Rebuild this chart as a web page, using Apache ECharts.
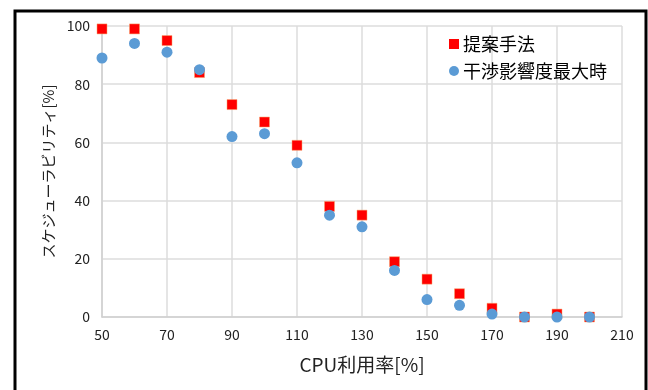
<!DOCTYPE html>
<html>
<head>
<meta charset="utf-8">
<script src="https://cdn.jsdelivr.net/npm/echarts@6/dist/echarts.min.js"></script>
<style>
  html, body { margin: 0; padding: 0; background: #fff; }
  #chart { width: 648px; height: 390px; }
</style>
</head>
<body>
<div id="chart"></div>
<script>
// CPU利用率 [%]
var cpuRates = [50, 60, 70, 80, 90, 100, 110, 120, 130, 140, 150, 160, 170, 180, 190, 200];
// 提案手法
var proposed = [99, 99, 95, 84, 73, 67, 59, 38, 35, 19, 13, 8, 3, 0, 1, 0];
// 干渉影響度最大時
var worstCase = [89, 94, 91, 85, 62, 63, 53, 35, 31, 16, 6, 4, 1, 0, 0, 0];

function pairs(ys) {
  return cpuRates.map(function (x, i) { return [x, ys[i]]; });
}

var fontJP = '"Noto Sans CJK JP", "Noto Sans", sans-serif';

var myChart = echarts.init(document.getElementById('chart'));
var option = {
  animation: false,
  textStyle: { fontFamily: fontJP },
  graphic: [{
    type: 'rect',
    shape: { x: 15, y: 11, width: 631, height: 400 },
    style: { fill: 'none', stroke: '#000', lineWidth: 3 },
    silent: true
  }],
  grid: { left: 102, right: 26, top: 26, bottom: 73 },
  legend: {
    orient: 'vertical',
    left: 444,
    top: 30,
    itemWidth: 10,
    itemHeight: 10,
    itemGap: 9,
    itemStyle: { borderWidth: 0 },
    textStyle: { fontSize: 18, color: '#000', fontFamily: fontJP, padding: [0, 0, 0, -1] },
    data: [
      { name: '提案手法', icon: 'rect' },
      { name: '干渉影響度最大時', icon: 'circle' }
    ]
  },
  xAxis: {
    type: 'value',
    min: 50,
    max: 210,
    interval: 20,
    name: 'CPU利用率[%]',
    nameLocation: 'middle',
    nameGap: 38,
    nameTextStyle: { fontSize: 19, color: '#222' },
    axisLine: { show: true, lineStyle: { color: '#d0d0d0', width: 1.5 } },
    axisTick: { show: false },
    axisLabel: { fontSize: 14, color: '#222', margin: 11 },
    splitLine: { show: true, lineStyle: { color: '#dcdcdc', width: 1.5 } }
  },
  yAxis: {
    type: 'value',
    min: 0,
    max: 100,
    interval: 20,
    name: 'スケジューラビリティ[%]',
    nameLocation: 'middle',
    nameGap: 45,
    nameTextStyle: { fontSize: 15, color: '#222' },
    axisLine: { show: true, lineStyle: { color: '#d0d0d0', width: 1.5 } },
    axisTick: { show: false },
    axisLabel: { fontSize: 14, color: '#222', margin: 12 },
    splitLine: { show: true, lineStyle: { color: '#dcdcdc', width: 1.5 } }
  },
  series: [
    {
      name: '提案手法',
      type: 'scatter',
      symbol: 'rect',
      symbolSize: 10,
      itemStyle: { color: '#ff0000', borderColor: '#f4a46a', borderWidth: 0.5, opacity: 1 },
      data: pairs(proposed)
    },
    {
      name: '干渉影響度最大時',
      type: 'scatter',
      symbol: 'circle',
      symbolSize: 11,
      itemStyle: { color: '#5b9bd5', opacity: 1 },
      data: pairs(worstCase)
    }
  ]
};
myChart.setOption(option);
</script>
</body>
</html>
